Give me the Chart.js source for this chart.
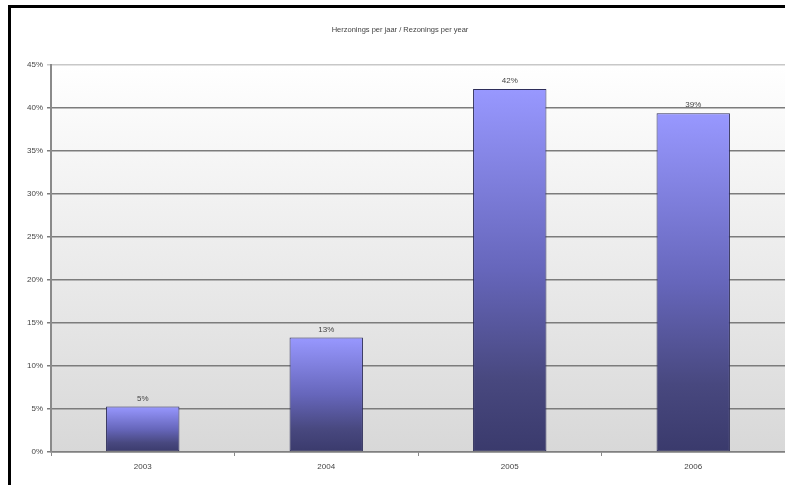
<!DOCTYPE html>
<html>
<head>
<meta charset="utf-8">
<script src="https://cdn.jsdelivr.net/npm/chart.js@4.4.0/dist/chart.umd.min.js"></script>
<style>
html,body{margin:0;padding:0;background:#fff;overflow:hidden;}
#wrap{position:relative;width:785px;height:485px;}
</style>
</head>
<body>
<div id="wrap"><canvas id="c" width="785" height="485"></canvas></div>
<script>
const title = "Herzonings per jaar / Rezonings per year";
const categories = ["2003", "2004", "2005", "2006"];
const values = [5.3, 13.3, 42.2, 39.4];
const valueLabels = ["5%", "13%", "42%", "39%"];
const yMax = 45;
const yStep = 5;

const framePlugin = {
  id: 'frame',
  beforeDraw(chart) {
    const {ctx, chartArea: a} = chart;
    ctx.save();
    ctx.fillStyle = '#ffffff';
    ctx.fillRect(0, 0, chart.width, chart.height);
    const g = ctx.createLinearGradient(0, a.top, 0, a.bottom);
    g.addColorStop(0, '#ffffff');
    g.addColorStop(1, '#d8d8d8');
    ctx.fillStyle = g;
    ctx.fillRect(a.left, a.top, a.right - a.left, a.bottom - a.top);
    ctx.restore();
  },
  afterDatasetsDraw(chart) {
    const {ctx} = chart;
    const meta = chart.getDatasetMeta(0);
    ctx.save();
    ctx.font = '8px "Liberation Sans", Arial, sans-serif';
    ctx.fillStyle = '#444444';
    ctx.textAlign = 'center';
    ctx.textBaseline = 'bottom';
    meta.data.forEach((el, i) => {
      ctx.fillText(valueLabels[i], el.x, el.y - 4);
    });
    ctx.restore();
  },
  afterDraw(chart) {
    const {ctx} = chart;
    ctx.save();
    ctx.font = '7.5px "Liberation Sans", Arial, sans-serif';
    ctx.fillStyle = '#444444';
    ctx.textAlign = 'center';
    ctx.textBaseline = 'middle';
    ctx.fillText(title, 400, 30);
    ctx.fillStyle = '#000000';
    ctx.fillRect(8, 5, 3, 480);
    ctx.fillRect(8, 5, 777, 3);
    ctx.restore();
  }
};

new Chart(document.getElementById('c'), {
  type: 'bar',
  data: {
    labels: categories,
    datasets: [{
      data: values,
      backgroundColor(ctx) {
        const chart = ctx.chart;
        const a = chart.chartArea;
        if (!a || !chart.scales.y) return '#7777cc';
        const y = chart.scales.y;
        const top = y.getPixelForValue(ctx.raw);
        const bottom = y.getPixelForValue(0);
        const g = chart.ctx.createLinearGradient(0, top, 0, bottom);
        g.addColorStop(0, '#9898ff');
        g.addColorStop(0.5, '#6666bb');
        g.addColorStop(0.8, '#48487f');
        g.addColorStop(1, '#3a3a6c');
        return g;
      },
      borderColor: '#2e2e5a',
      borderWidth: 1,
      borderSkipped: false,
      categoryPercentage: 1,
      barPercentage: 0.4
    }]
  },
  plugins: [framePlugin],
  options: {
    responsive: false,
    animation: false,
    layout: {padding: {top: 65, left: 0, right: 0, bottom: 0}},
    plugins: {legend: {display: false}, tooltip: {enabled: false}, title: {display: false}},
    scales: {
      x: {
        afterFit(s) { s.height = 33; },
        grid: {drawOnChartArea: false, offset: true, tickLength: 4, color: '#888888'},
        border: {color: '#808080', width: 1.5},
        ticks: {color: '#444444', font: {size: 8, family: '"Liberation Sans", Arial, sans-serif'}, padding: 6}
      },
      y: {
        min: 0, max: yMax,
        afterFit(s) { s.width = 51; },
        ticks: {stepSize: yStep, color: '#444444', padding: 4,
          font: {size: 8, family: '"Liberation Sans", Arial, sans-serif'},
          callback: v => v + '%'},
        grid: {color: c => c.tick && c.tick.value === yMax ? '#c8c8c8' : '#7c7c7c', lineWidth: 1.5, tickLength: 4},
        border: {color: '#8a8a8a', width: 2}
      }
    }
  }
});
</script>
</body>
</html>
